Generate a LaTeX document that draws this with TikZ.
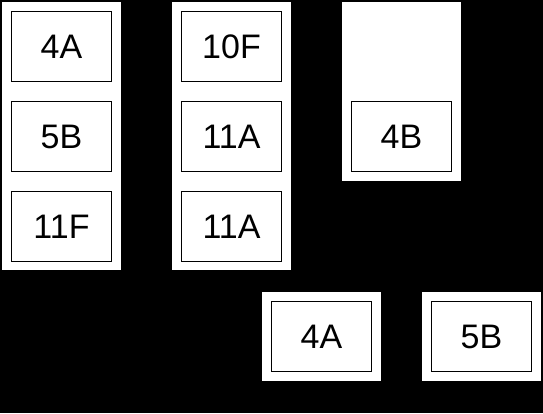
\documentclass[tikz,border=0pt]{standalone}
\usepackage{fontspec}
\setmainfont{Liberation Sans}
\begin{document}
\begin{tikzpicture}[x=1pt,y=-1pt,
  panel/.style={fill=white,draw=none},
  cell/.style={draw=black,line width=1pt,fill=white,minimum width=100pt,minimum height=70pt,inner sep=0pt,font=\fontsize{34}{40}\selectfont,anchor=north west}]
\useasboundingbox[fill=black] (0,0) rectangle (543,413);
% panels
\fill[panel] (2,2) rectangle (121,270);
\fill[panel] (172,2) rectangle (291,270);
\fill[panel] (342,2) rectangle (461,181);
\fill[panel] (262,292) rectangle (381,381);
\fill[panel] (422,292) rectangle (541,381);
% cells
\node[cell] (a1) at (11,11) {4A};
\node[cell] (a2) at (11,101) {5B};
\node[cell] (a3) at (11,191) {11F};
\node[cell] (b1) at (181,11) {10F};
\node[cell] (b2) at (181,101) {11A};
\node[cell] (b3) at (181,191) {11A};
\node[cell] (c1) at (351,101) {4B};
\node[cell] (d1) at (271,301) {4A};
\node[cell] (e1) at (431,301) {5B};
\end{tikzpicture}
\end{document}
